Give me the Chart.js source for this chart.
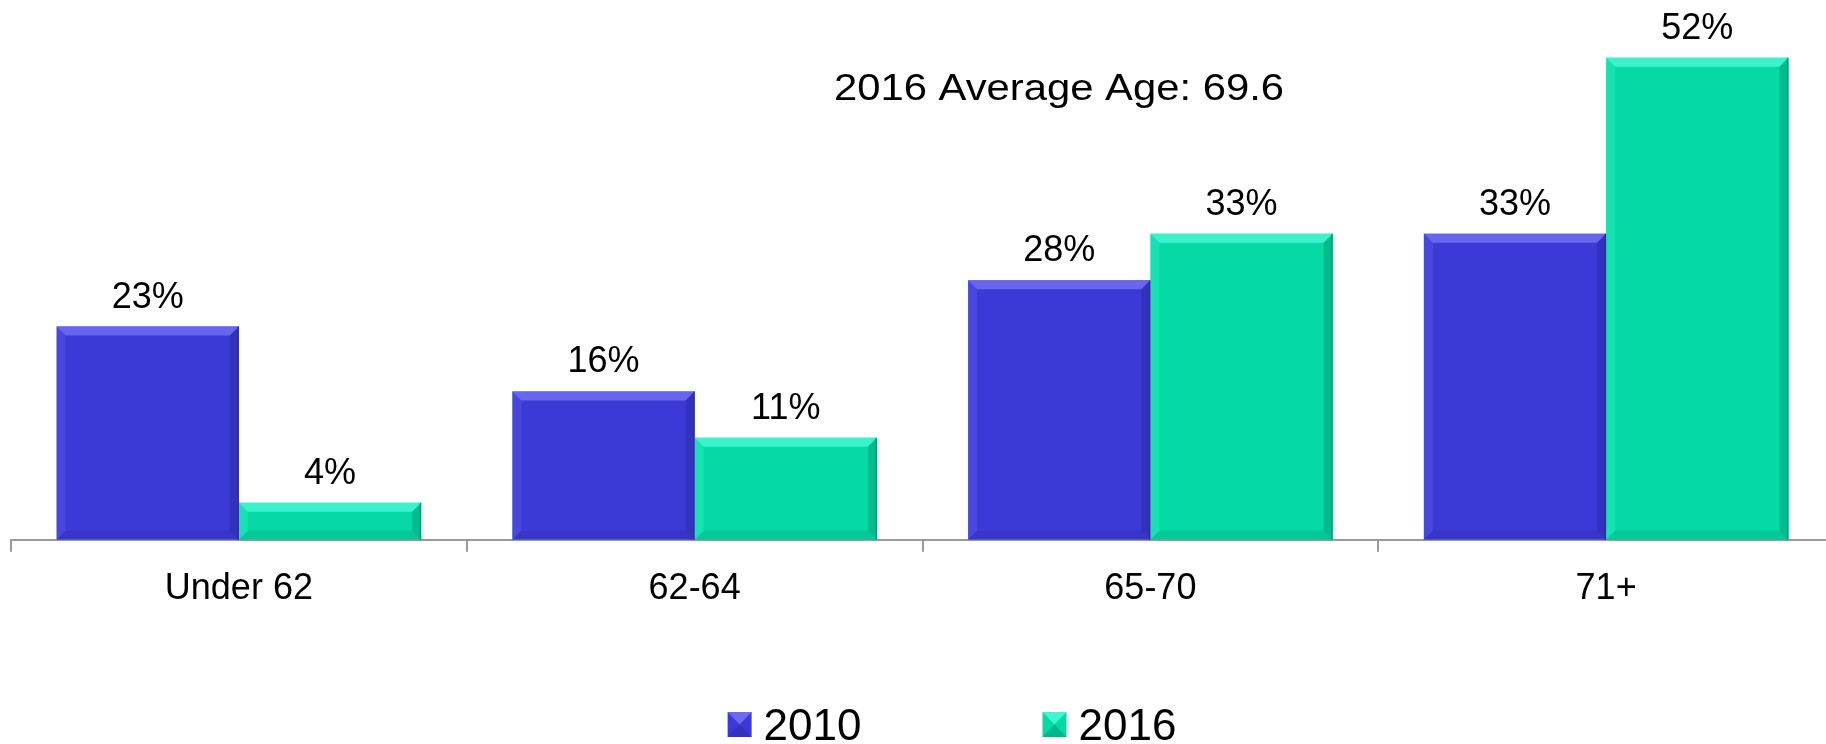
<!DOCTYPE html>
<html>
<head>
<meta charset="utf-8">
<script src="https://cdn.jsdelivr.net/npm/chart.js@4.4.1/dist/chart.umd.min.js"></script>
<style>
  html, body { margin: 0; padding: 0; background: #fff; overflow: hidden; }
  #wrap { position: absolute; left: 0; top: 0; width: 1834px; height: 744px; }
</style>
</head>
<body>
<div id="wrap"><canvas id="ageChart"></canvas></div>
<script>
// chart data
const categories = ["Under 62", "62-64", "65-70", "71+"];
const seriesNames = ["2010", "2016"];
const values2010 = [23, 16, 28, 33];
const values2016 = [4, 11, 33, 52];
const noteText = "2016 Average Age: 69.6";

const FONT = "'Liberation Sans', Arial, sans-serif";

// colours: face, light edge, dark edge
const palette = [
  { face: "#3b3ad6", light: "#6b6bf2", dark: "#2a2a9e" },
  { face: "#05d9a4", light: "#3ff5d2", dark: "#03966f" }
];

// Bevelled look like the office chart
const bevelPlugin = {
  id: "bevel",
  afterDatasetsDraw(chart) {
    const c = chart.ctx;
    chart.data.datasets.forEach((ds, i) => {
      const col = palette[i];
      chart.getDatasetMeta(i).data.forEach(bar => {
        const l = bar.x - bar.width / 2, r = bar.x + bar.width / 2;
        const t = bar.y, b = bar.base;
        const e = Math.min(9, (b - t) / 2);
        c.save();
        // top
        c.fillStyle = col.light;
        c.globalAlpha = 0.9;
        c.beginPath();
        c.moveTo(l, t); c.lineTo(r, t); c.lineTo(r - e, t + e); c.lineTo(l + e, t + e);
        c.closePath(); c.fill();
        // left
        c.globalAlpha = 0.3;
        c.beginPath();
        c.moveTo(l, t); c.lineTo(l + e, t + e); c.lineTo(l + e, b - e); c.lineTo(l, b);
        c.closePath(); c.fill();
        // right
        c.globalAlpha = 0.45;
        c.fillStyle = col.dark;
        c.beginPath();
        c.moveTo(r, t); c.lineTo(r, b); c.lineTo(r - e, b - e); c.lineTo(r - e, t + e);
        c.closePath(); c.fill();
        // bottom
        c.globalAlpha = 0.25;
        c.beginPath();
        c.moveTo(l, b); c.lineTo(r, b); c.lineTo(r - e, b - e); c.lineTo(l + e, b - e);
        c.closePath(); c.fill();
        // thin dark outline on the right
        c.globalAlpha = 0.8;
        c.fillRect(r - 1.5, t, 1.5, b - t);
        c.restore();
      });
    });
  }
};

// value labels, note text and legend
const textPlugin = {
  id: "texts",
  afterDraw(chart) {
    const c = chart.ctx;
    c.save();
    c.fillStyle = "#000";
    c.textAlign = "center";
    c.textBaseline = "alphabetic";
    c.font = "36px " + FONT;
    chart.data.datasets.forEach((ds, i) => {
      chart.getDatasetMeta(i).data.forEach((bar, j) => {
        c.fillText(ds.data[j] + "%", bar.x, bar.y - 19);
      });
    });

    // note
    c.save();
    c.font = "37px " + FONT;
    c.translate(1059, 100);
    c.scale(1.13, 1);
    c.fillText(noteText, 0, 0);
    c.restore();

    // legend
    c.font = "44px " + FONT;
    c.textAlign = "left";
    const box = 24, gap = 12, itemGap = 181;
    const w = seriesNames.map(s => c.measureText(s).width);
    const total = box + gap + w[0] + itemGap + box + gap + w[1];
    let x = 952 - total / 2;
    seriesNames.forEach((name, i) => {
      const col = palette[i];
      const by = 712;
      c.fillStyle = col.face;
      c.fillRect(x, by, box, 25);
      c.fillStyle = col.light;
      c.beginPath();
      c.moveTo(x, by); c.lineTo(x + box, by); c.lineTo(x + box / 2, by + 12.5);
      c.closePath(); c.fill();
      c.fillStyle = col.dark;
      c.globalAlpha = 0.5;
      c.beginPath();
      c.moveTo(x, by + 25); c.lineTo(x + box, by + 25); c.lineTo(x + box / 2, by + 12.5);
      c.closePath(); c.fill();
      c.globalAlpha = 1;
      c.fillStyle = "#000";
      c.fillText(name, x + box + gap, 740);
      x += box + gap + w[i] + itemGap;
    });
    c.restore();
  }
};

const ctx = document.getElementById("ageChart").getContext("2d");
const chart = new Chart(ctx, {
  type: "bar",
  data: {
    labels: categories,
    datasets: [
      { label: seriesNames[0], data: values2010, backgroundColor: palette[0].face },
      { label: seriesNames[1], data: values2016, backgroundColor: palette[1].face }
    ]
  },
  options: {
    responsive: true,
    maintainAspectRatio: false,
    animation: false,
    events: [],
    layout: { padding: { left: 11, right: 0, top: 2, bottom: 117 } },
    datasets: { bar: { categoryPercentage: 0.8, barPercentage: 1.0 } },
    plugins: {
      legend: { display: false },
      tooltip: { enabled: false }
    },
    scales: {
      x: {
        grid: {
          offset: true,
          drawOnChartArea: false,
          drawTicks: true,
          tickLength: 12,
          color: "#999999",
          lineWidth: 2
        },
        border: { display: true, color: "#999999", width: 2 },
        ticks: {
          color: "#000",
          padding: 16,
          font: { family: FONT, size: 36 }
        }
      },
      y: {
        display: false,
        min: 0,
        max: 58
      }
    }
  },
  plugins: [bevelPlugin, textPlugin]
});
</script>
</body>
</html>
